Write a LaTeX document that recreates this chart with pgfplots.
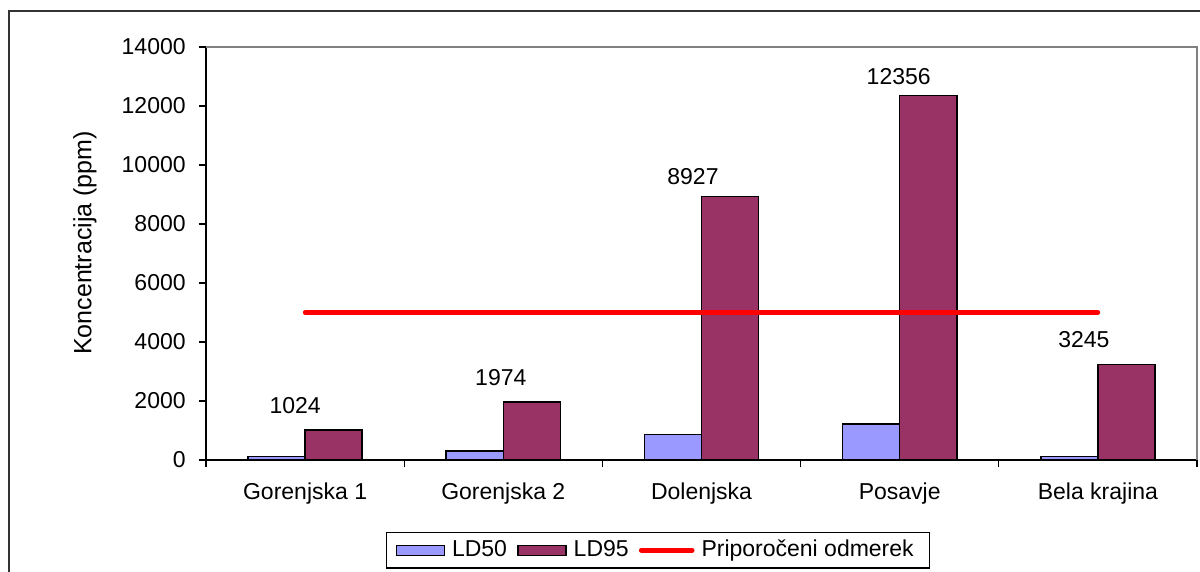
\documentclass[border=0pt]{standalone}
\usepackage{pgfplots}
\pgfplotsset{compat=1.18}
\usepackage{fontspec}
\setmainfont{Liberation Sans}
\definecolor{ldA}{HTML}{9999FF}
\definecolor{ldB}{HTML}{993366}
\definecolor{frameC}{HTML}{333333}
\definecolor{plotborder}{HTML}{808080}
\newcommand{\lblfont}{\fontsize{11.5}{13.8}\selectfont}
\begin{document}
\lblfont
\begin{tikzpicture}
\path[use as bounding box] (0,0) rectangle (600pt,286pt);
\draw[frameC, line width=1pt] (4.35pt,-10pt) -- (4.35pt,280.6pt) -- (610pt,280.6pt);
\begin{axis}[
  at={(103pt,56pt)}, anchor=south west, scale only axis,
  width=495.5pt, height=206.5pt,
  xmin=-0.5, xmax=4.5, ymin=0, ymax=14000,
  clip=false,
  axis lines*=left,
  axis line style={black, line width=0.6pt, -},
  xtick={-0.5,0.5,1.5,2.5,3.5,4.5},
  xticklabels={Gorenjska 1, Gorenjska 2, Dolenjska, Posavje, Bela krajina},
  x tick label as interval,
  ytick={0,2000,4000,6000,8000,10000,12000,14000},
  scaled y ticks=false,
  tick align=outside, major tick length=3.75pt,
  tick style={black, line width=0.6pt},
  xtick pos=bottom, ytick pos=left,
  /pgf/number format/1000 sep={},
  /pgf/number format/assume math mode=true,
  ticklabel style={font=\lblfont},
  xticklabel style={anchor=base, yshift=-16.25pt},
  yticklabel style={anchor=east, xshift=-2.4pt},
  ylabel={Koncentracija (ppm)},
  every axis y label/.style={at={(axis description cs:0,0.5)}, xshift=-60.5pt, yshift=5.25pt, rotate=90, anchor=center, font=\fontsize{12.5}{15}\selectfont},
  legend columns=3,
  legend cell align=left,
  legend style={at={(0.1816,-0.1743)}, anchor=north west, draw=black, line width=0.6pt,
    font=\lblfont, inner xsep=4.5pt, inner ysep=1.8pt,
    nodes={inner xsep=3.5pt, inner ysep=2pt},
    /tikz/every even column/.append style={column sep=1.6pt}},
]
\addplot[ybar, bar width=0.288, bar shift=-0.144, fill=ldA, draw=black, line width=0.75pt,
  legend image code/.code={\draw[fill=ldA, draw=black, line width=0.75pt] (0pt,-2.5pt) rectangle (24pt,2.5pt);}]
  table[x=x, y=y]{
x y
0 120
1 300
2 870
3 1220
4 120
};
\addlegendentry{LD50}
\addplot[ybar, bar width=0.288, bar shift=0.144, fill=ldB, draw=black, line width=0.75pt,
  legend image code/.code={\draw[fill=ldB, draw=black, line width=0.75pt] (0pt,-2.5pt) rectangle (24pt,2.5pt);},
  visualization depends on={\thisrow{dx} \as \dx},
  visualization depends on={\thisrow{dy} \as \dy},
  nodes near coords,
  every node near coord/.append style={anchor=base, xshift=\dx pt, yshift=\dy pt, font=\lblfont, black, inner sep=0pt},
  /pgf/number format/1000 sep={}]
  table[x=x, y=y]{
x y dx dy
0 1024 -5 8
1 1974 -1.25 8
2 8927 -4.25 6
3 12356 -0.5 5.5
4 3245 -7 8.5
};
\addlegendentry{LD95}
\addplot[red, line width=2.3pt, line cap=round, mark=none,
  legend image code/.code={\draw[red, line width=2.3pt, line cap=round] (0pt,0pt) -- (25.5pt,0pt);}]
  coordinates {(0,5000) (4,5000)};
\addlegendentry{Priporočeni odmerek}
\draw[plotborder, line width=0.6pt] (rel axis cs:0,1) -- (rel axis cs:1,1) -- (rel axis cs:1,0);
\end{axis}
\end{tikzpicture}
\end{document}
